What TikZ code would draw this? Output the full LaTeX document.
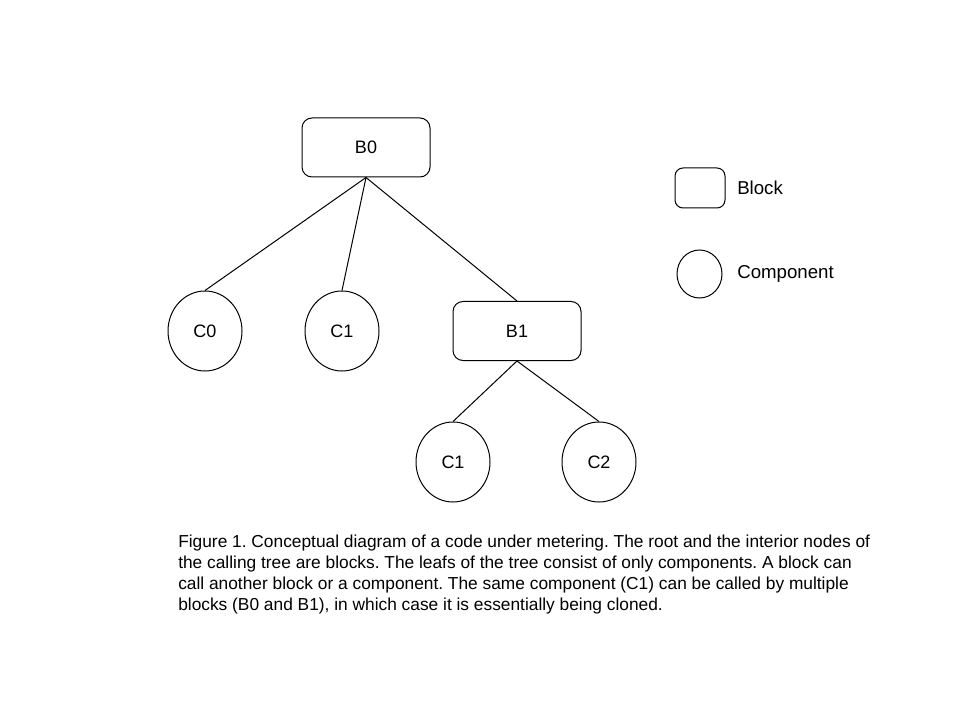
\documentclass[tikz,border=0pt]{standalone}
\usepackage{fontspec}
\setmainfont{Liberation Sans}
\usetikzlibrary{shapes.geometric}
\tikzset{
  blockbox/.style={draw, rounded corners=7.5pt, line width=0.75pt, minimum width=96pt, minimum height=44.25pt, inner sep=0pt, font=\fontsize{13.5}{15}\selectfont},
  compcirc/.style={draw, ellipse, line width=0.75pt, minimum width=55.5pt, minimum height=60pt, inner sep=0pt, font=\fontsize{13.5}{15}\selectfont},
  edge/.style={line width=0.75pt},
  captionline/.style={anchor=base west, inner sep=0pt, font=\fontsize{13}{15}\selectfont\frenchspacing},
  legendtext/.style={anchor=west, inner sep=0pt, font=\fontsize{14}{16}\selectfont}
}
\begin{document}
\begin{tikzpicture}[x=0.75pt, y=-0.75pt]
\useasboundingbox[fill=white] (0,0) rectangle (960,720);
\node[blockbox] (B0) at (366,147.5) {B0};
\node[compcirc] (C0) at (205,331) {C0};
\node[compcirc] (C1a) at (342,331) {C1};
\node[blockbox] (B1) at (517,331) {B1};
\node[compcirc] (C1b) at (453,462) {C1};
\node[compcirc] (C2) at (599,462) {C2};
\draw[edge] (B0.south) -- (C0.north);
\draw[edge] (B0.south) -- (C1a.north);
\draw[edge] (B0.south) -- (B1.north);
\draw[edge] (B1.south) -- (C1b.north);
\draw[edge] (B1.south) -- (C2.north);
% legend
\node[blockbox, minimum width=37.5pt, minimum height=30pt, rounded corners=6pt] (LB) at (700,188) {};
\node[legendtext] (LBt) at (737,188) {Block};
\node[compcirc, minimum width=33.75pt, minimum height=36pt] (LC) at (699.5,274) {};
\node[legendtext] (LCt) at (737,274) {Component};
% caption
\node[captionline] (cap1) at (178,547) {Figure 1. Conceptual diagram of a code under metering. The root and the interior nodes of};
\node[captionline] (cap2) at (178,568) {the calling tree are blocks. The leafs of the tree consist of only components. A block can};
\node[captionline] (cap3) at (178,589) {call another block or a component. The same component (C1) can be called by multiple};
\node[captionline] (cap4) at (178,610) {blocks (B0 and B1), in which case it is essentially being cloned.};
\end{tikzpicture}
\end{document}
